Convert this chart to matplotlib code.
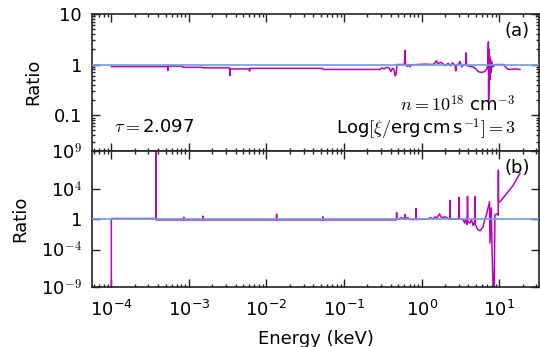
import numpy as np
import matplotlib
matplotlib.use("Agg")
import matplotlib.pyplot as plt
from matplotlib.ticker import LogLocator, NullLocator, FixedLocator, FixedFormatter, NullFormatter

plt.rcParams['mathtext.fontset'] = 'cm'
plt.rcParams['font.family'] = ['DejaVu Sans']

# ---------------- data ----------------
# panel (a): ratio vs energy (keV)
energy_a = [1.0e-4, 5.3e-4, 5.35e-4, 5.4e-4, 8.3e-4, 8.35e-4, 1.5e-3, 1.52e-3,
            3.35e-3, 3.37e-3, 3.4e-3, 6.0e-3, 6.05e-3, 6.1e-3, 0.053, 0.054,
            0.29, 0.31, 0.33, 0.35, 0.38, 0.40, 0.42, 0.44, 0.455, 0.47, 0.48,
            0.60, 0.61, 0.62, 0.66, 0.68, 0.71, 0.73, 0.9, 1.1, 1.4, 1.5, 1.55,
            1.6, 1.8, 2.0, 2.2, 2.35, 2.5, 2.7, 2.75, 2.8, 3.0, 3.1, 3.3, 3.5,
            3.7, 3.75, 3.8, 4.2, 4.6, 5.0, 5.4, 5.9, 6.4, 6.9, 7.1, 7.25, 7.3,
            7.35, 7.42, 7.5, 7.6, 7.7, 7.85, 8.0, 8.3, 8.8, 11.2, 12.8, 13.6,
            16.0, 18.5]
ratio_a = [0.91, 0.91, 0.76, 0.93, 0.93, 0.88, 0.88, 0.86,
           0.86, 0.60, 0.82, 0.82, 0.74, 0.84, 0.84, 0.80,
           0.80, 0.86, 0.82, 0.88, 0.86, 0.72, 0.85, 0.80, 0.60, 0.65, 1.0,
           1.0, 1.9, 0.98, 0.92, 1.0, 0.90, 0.99, 1.0, 1.02, 1.0, 1.1, 1.2,
           1.05, 1.1, 0.95, 1.05, 0.95, 1.08, 0.95, 0.75, 1.0, 1.0, 1.15, 0.9, 1.0,
           1.0, 1.7, 0.95, 0.93, 0.9, 0.82, 0.72, 0.70, 0.72, 0.80, 0.95, 2.8, 0.19,
           2.0, 0.3, 1.5, 0.5, 1.3, 0.7, 1.15, 0.9, 1.0, 1.0, 0.82, 0.8,
           0.82, 0.8]

# panel (b): ratio vs energy (keV)
energy_b = [1.0e-4, 1.0e-4, 3.76e-4, 3.76e-4, 3.78e-4, 8.5e-4, 8.6e-4, 8.7e-4,
            1.5e-3, 1.51e-3, 1.52e-3, 0.0134, 0.0135, 0.0136, 0.053, 0.0532,
            0.0535, 0.47, 0.476, 0.48, 0.55, 0.60, 0.61, 0.62, 0.66, 0.70,
            0.84, 0.844, 0.85, 1.2, 1.3, 1.4, 1.5, 1.55, 1.7, 1.8, 2.0, 2.2,
            2.3, 2.32, 2.34, 2.7, 3.0, 3.03, 3.06, 3.4, 3.6, 3.7, 3.85, 3.9,
            3.95, 4.2, 4.4, 4.6, 4.85, 4.87, 4.9, 5.3, 5.7, 6.2, 6.5, 6.8,
            7.1, 7.5, 7.6, 7.9, 8.1, 8.5, 8.55, 8.8, 9.2, 9.6, 9.7,
            9.75, 9.8, 10.2, 12.5, 15.2, 18.5]
ratio_b = [1e-12, 1.2, 1.2, 1e12, 0.8, 0.8, 1.8, 0.8,
           0.8, 2.5, 0.8, 0.8, 4.5, 0.8, 0.8, 2.0,
           0.8, 0.8, 7.0, 0.9, 1.5, 1.0, 4.0, 1.0, 1.6, 0.9,
           0.9, 25.0, 0.9, 1.0, 1.6, 1.0, 2.0, 1.2, 5.0, 1.5, 2.0, 1.2,
           1.0, 300.0, 1.0, 1.0, 1.0, 700.0, 1.0, 0.9, 0.3, 1.2, 0.2, 1000.0,
           0.5, 0.3, 0.8, 0.15, 0.5, 900.0, 0.2, 0.04, 0.03, 0.1, 1.0, 3.0,
           20.0, 190.0, 7e-4, 30.0, 3e-5, 1e-12, 1e-12, 3.4, 5.0, 3.4, 3.4,
           2.8e6, 190.0, 190.0, 2400.0, 3.0e4, 1.1e6]

xlim = (5.6e-5, 33.0)
ylim_a = (0.02, 10.0)
ylim_b = (1e-9, 1e9)
yticks_b = [1e-9, 1e-4, 1.0, 1e4, 1e9]
yticklabels_b = [r'10$^{-9}$', r'10$^{-4}$', '1', r'10$^{4}$', r'10$^{9}$']
yticks_a = [0.1, 1.0, 10.0]
yticklabels_a = ['0.1', '1', '10']

magenta = '#bf00bf'
blue = '#6f9fd8'

fig = plt.figure(figsize=(5.4, 3.47), dpi=100)
ax_a = fig.add_axes([0.170, 0.566, 0.829, 0.394])
ax_b = fig.add_axes([0.170, 0.1715, 0.829, 0.394])

for ax in (ax_a, ax_b):
    ax.set_xscale('log')
    ax.set_yscale('log')
    ax.set_xlim(*xlim)
    ax.axhline(1.0, color=blue, lw=1.2, zorder=3)
    ax.tick_params(which='both', direction='in', top=True, right=True,
                   labelsize=13, width=1.0, pad=7, color='#222222')
    ax.tick_params(axis='x', which='both', pad=9)
    ax.tick_params(which='major', length=5.5)
    ax.tick_params(which='minor', length=2.5)
    ax.xaxis.set_major_locator(LogLocator(base=10, numticks=20))
    ax.xaxis.set_minor_locator(LogLocator(base=10, subs=np.arange(2, 10), numticks=20))
    for s in ax.spines.values():
        s.set_linewidth(1.2)
        s.set_color('#222222')

ax_a.plot(energy_a, ratio_a, color=magenta, lw=1.1, zorder=2)
ax_a.set_ylim(*ylim_a)
ax_a.yaxis.set_major_locator(FixedLocator(yticks_a))
ax_a.yaxis.set_major_formatter(FixedFormatter(yticklabels_a))
ax_a.yaxis.set_minor_locator(LogLocator(base=10, subs=np.arange(2, 10), numticks=20))
ax_a.yaxis.set_minor_formatter(NullFormatter())
ax_a.xaxis.set_major_formatter(NullFormatter())
ax_a.xaxis.set_minor_formatter(NullFormatter())
ax_a.set_ylabel('Ratio', fontsize=13, labelpad=8)

ax_a.text(0.05, 0.169, r'$\tau=$2.097', transform=ax_a.transAxes,
          fontsize=13, ha='left', va='center')
ax_a.text(0.947, 0.33, r'$n=10^{18}$ cm$^{-3}$', transform=ax_a.transAxes,
          fontsize=13, ha='right', va='center')
ax_a.text(0.947, 0.155, r'Log$[\xi/$erg$\,$cm$\,$s$^{-1}]=3$', transform=ax_a.transAxes,
          fontsize=13, ha='right', va='center')
ax_a.text(0.979, 0.876, '(a)', transform=ax_a.transAxes,
          fontsize=13, ha='right', va='center')

ax_b.plot(energy_b, ratio_b, color=magenta, lw=1.1, zorder=2)
ax_b.set_ylim(*ylim_b)
ax_b.yaxis.set_major_locator(FixedLocator(yticks_b))
ax_b.yaxis.set_major_formatter(FixedFormatter(yticklabels_b))
ax_b.yaxis.set_minor_locator(NullLocator())
ax_b.set_ylabel('Ratio', fontsize=13, labelpad=8)
ax_b.set_xlabel('Energy (keV)', fontsize=13, labelpad=7)
ax_b.text(0.979, 0.872, '(b)', transform=ax_b.transAxes,
          fontsize=13, ha='right', va='center')

fig.savefig('out.png', dpi=100)
